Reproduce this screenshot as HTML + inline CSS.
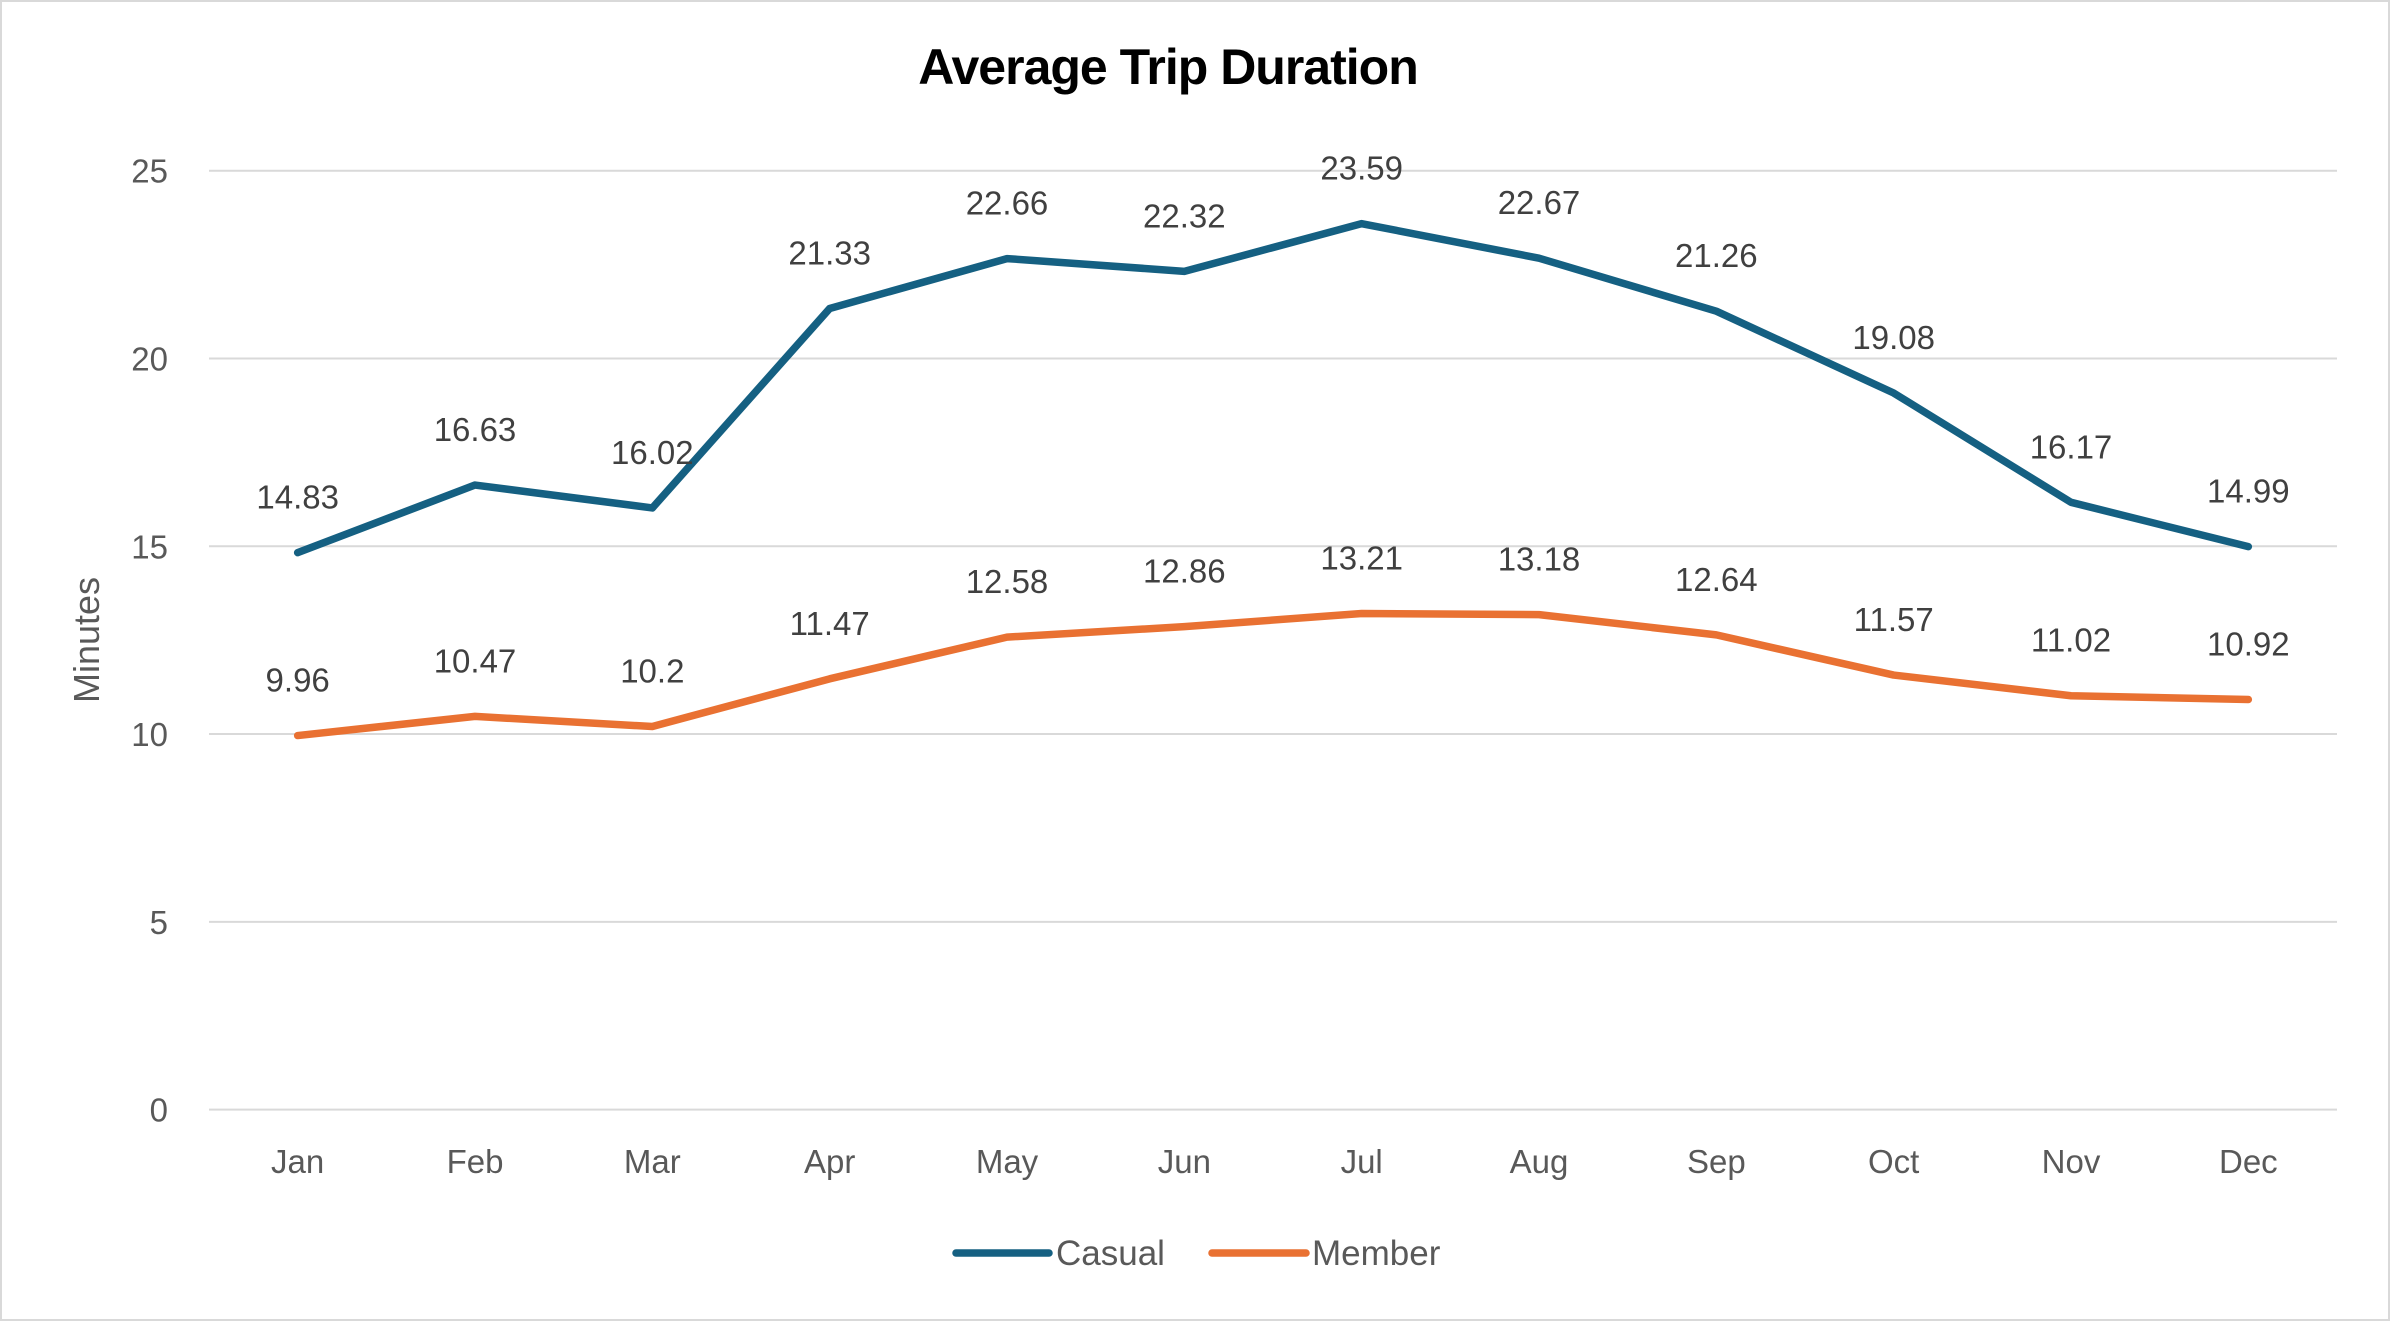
<!DOCTYPE html>
<html><head><meta charset="utf-8">
<style>
html,body{margin:0;padding:0;background:#fff;}
svg{display:block;font-family:"Liberation Sans",sans-serif;}
</style></head>
<body>
<svg id="chart" width="2390" height="1321" viewBox="0 0 2390 1321">
<rect x="1" y="1" width="2388" height="1319" fill="#fff" stroke="#d9d9d9" stroke-width="2"/>
<text x="1168" y="84" text-anchor="middle" font-size="50" font-weight="bold" fill="#000" style="letter-spacing:-1px">Average Trip Duration</text>
<text transform="translate(99,640) rotate(-90)" text-anchor="middle" font-size="36" fill="#595959">Minutes</text>
<g id="grid"></g><g id="yticks"></g><g id="xticks"></g><g id="series"></g><g id="labels"></g>
<g>
<line x1="956" y1="1253" x2="1049" y2="1253" stroke="#156082" stroke-width="7.5" stroke-linecap="round"/>
<text x="1056" y="1265" font-size="35" fill="#595959">Casual</text>
<line x1="1212" y1="1253" x2="1306" y2="1253" stroke="#e97132" stroke-width="7.5" stroke-linecap="round"/>
<text x="1312" y="1265" font-size="35" fill="#595959">Member</text>
</g>
</svg>
<script>
const months=["Jan","Feb","Mar","Apr","May","Jun","Jul","Aug","Sep","Oct","Nov","Dec"];
const casual=[14.83,16.63,16.02,21.33,22.66,22.32,23.59,22.67,21.26,19.08,16.17,14.99];
const member=[9.96,10.47,10.2,11.47,12.58,12.86,13.21,13.18,12.64,11.57,11.02,10.92];
const yTicks=[0,5,10,15,20,25];
const NS="http://www.w3.org/2000/svg";
const left=209,right=2337,y0=1109.6,y25=170.7;
const step=(right-left)/months.length;
const xs=i=>left+step*(i+0.5);
const ys=v=>y0-(y0-y25)*v/25;
function mk(tag,attrs,parent,txt){const e=document.createElementNS(NS,tag);for(const k in attrs)e.setAttribute(k,attrs[k]);if(txt!==undefined)e.textContent=txt;document.getElementById(parent).appendChild(e);return e;}
yTicks.forEach(t=>{
 const g=mk("line",{x1:left,x2:right,y1:ys(t),y2:ys(t),stroke:"#d9d9d9","stroke-width":2},"grid");
 
 
 const l=mk("text",{x:168,y:ys(t)+12,"text-anchor":"end","font-size":33,fill:"#595959"},"yticks",String(t));
 
 
});
months.forEach((m,i)=>{
 const l=mk("text",{x:xs(i),y:1173,"text-anchor":"middle","font-size":33,fill:"#595959"},"xticks",m);
 
 
});
[[casual,"#156082","casual"],[member,"#e97132","member"]].forEach(([d,c,n])=>{
 const p=mk("polyline",{points:d.map((v,i)=>xs(i)+","+ys(v)).join(" "),fill:"none",stroke:c,"stroke-width":7.5,"stroke-linejoin":"round","stroke-linecap":"round"},"series");
 
 
 d.forEach((v,i)=>{
  const t=mk("text",{x:xs(i),y:ys(v)-44,"text-anchor":"middle","font-size":33,fill:"#404040"},"labels",String(v));
  
  
 });
});
</script>
</body></html>
